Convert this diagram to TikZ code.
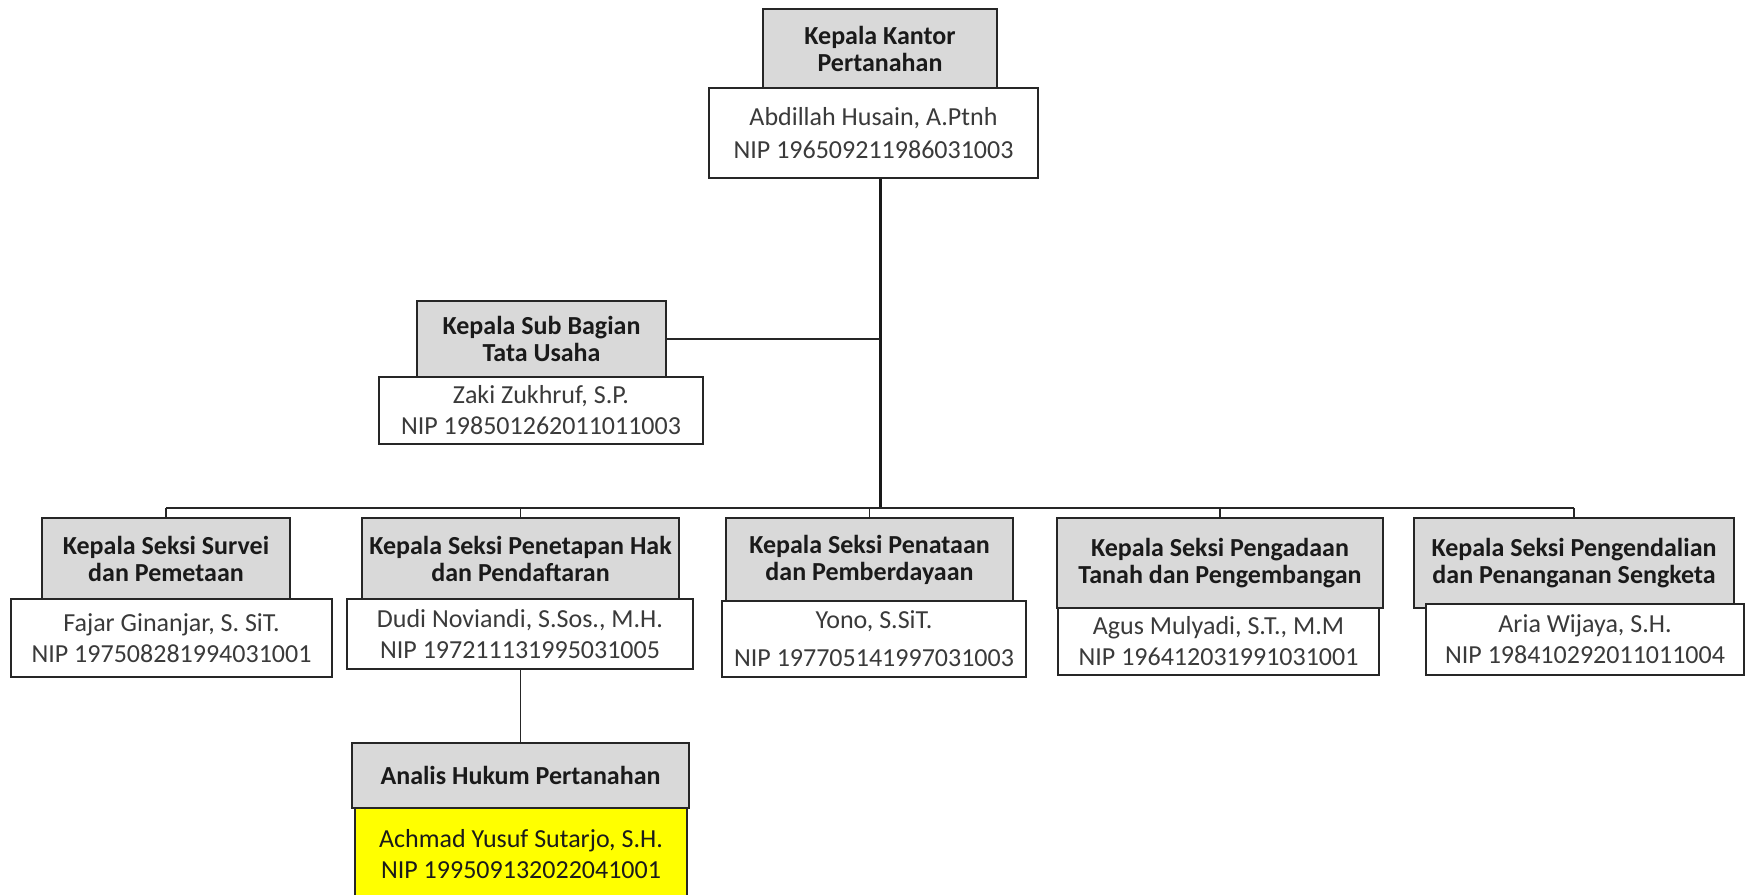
\documentclass[tikz,border=0pt]{standalone}
\usepackage{fontspec}
\setmainfont{Carlito}
\usetikzlibrary{positioning}
\definecolor{abu}{HTML}{D9D9D9}
\definecolor{garis}{HTML}{262626}
\definecolor{tinta}{HTML}{1A1A1A}
\definecolor{nmteks}{HTML}{3A3A3A}
\definecolor{kuning}{HTML}{FFFF00}
\tikzset{
  jab/.style={draw=garis,fill=abu,line width=1.3pt,inner sep=0pt,align=center,text=tinta,
              font=\fontsize{26}{27}\selectfont\bfseries},
  nama/.style={draw=garis,fill=#1,line width=1.3pt,inner sep=0pt,align=center,text=nmteks,
               font=\fontsize{26}{31}\selectfont},
  nama/.default=white,
  hub/.style={draw=garis,line width=1.5pt},
  hubtebal/.style={draw=black!90,line width=3pt},
}

\begin{document}
\begin{tikzpicture}[x=1pt,y=-1pt]
  \useasboundingbox[fill=white] (0,0) rectangle (1745,894);
  \node[jab,minimum width=234,minimum height=79] (kakan) at (880,48.5) {Kepala Kantor\\Pertanahan};
  \node[nama,minimum width=329,minimum height=90] (kakan-n) at (873.5,133)
      {Abdillah Husain, A.Ptnh\\[2pt]NIP 196509211986031003};
  \node[jab,minimum width=249,minimum height=76] (tu) at (541.5,339) {Kepala Sub Bagian\\Tata Usaha};
  \node[nama,minimum width=324,minimum height=67] (tu-n) at (541,410.5)
      {Zaki Zukhruf, S.P.\\NIP 198501262011011003};
  \coordinate (bus) at (880,508);
  \node[jab,minimum width=248,minimum height=81] (s1) at (166,558.5) {Kepala Seksi Survei\\dan Pemetaan};
  \node[nama,minimum width=321,minimum height=78] (s1-n) at (171.5,638)
      {Fajar Ginanjar, S. SiT.\\NIP 197508281994031001};
  \node[jab,minimum width=317,minimum height=81] (s2) at (520.5,558.5) {Kepala Seksi Penetapan Hak\\dan Pendaftaran};
  \node[nama,minimum width=346,minimum height=70] (s2-n) at (520,634)
      {Dudi Noviandi, S.Sos., M.H.\\NIP 197211131995031005};
  \node[jab,minimum width=287,minimum height=83] (s3) at (869.5,559.5) {Kepala Seksi Penataan\\dan Pemberdayaan};
  \node[nama,minimum width=304,minimum height=76] (s3-n) at (874,639)
      {Yono, S.SiT.\\[7pt]NIP 197705141997031003};
  \node[jab,minimum width=326,minimum height=90] (s4) at (1220,563) {Kepala Seksi Pengadaan\\Tanah dan Pengembangan};
  \node[nama,minimum width=321,minimum height=67] (s4-n) at (1218.5,641.5)
      {Agus Mulyadi, S.T., M.M\\NIP 196412031991031001};
  \node[jab,minimum width=320,minimum height=90] (s5) at (1574,563) {Kepala Seksi Pengendalian\\dan Penanganan Sengketa};
  \node[nama,minimum width=318,minimum height=71] (s5-n) at (1585,639.5)
      {Aria Wijaya, S.H.\\NIP 198410292011011004};
  \node[jab,minimum width=337,minimum height=65] (ahp) at (520.5,775.5) {Analis Hukum Pertanahan};
  \node[nama=kuning,minimum width=332,minimum height=92,text=tinta] (ahp-n) at (521,854)
      {Achmad Yusuf Sutarjo, S.H.\\NIP 199509132022041001};
  \draw[hubtebal] (kakan-n.south -| bus) -- (bus);
  \draw[hub] (tu.east) -- (tu.east -| bus);
  \draw[hub] (bus -| s1) -- (bus -| s5);
  \foreach \s in {s1,s2,s3,s4,s5}
    \draw[hub] (bus -| \s) -- (\s.north);
  \draw[hub] (s2-n.south -| s2) -- (ahp.north);
\end{tikzpicture}
\end{document}
